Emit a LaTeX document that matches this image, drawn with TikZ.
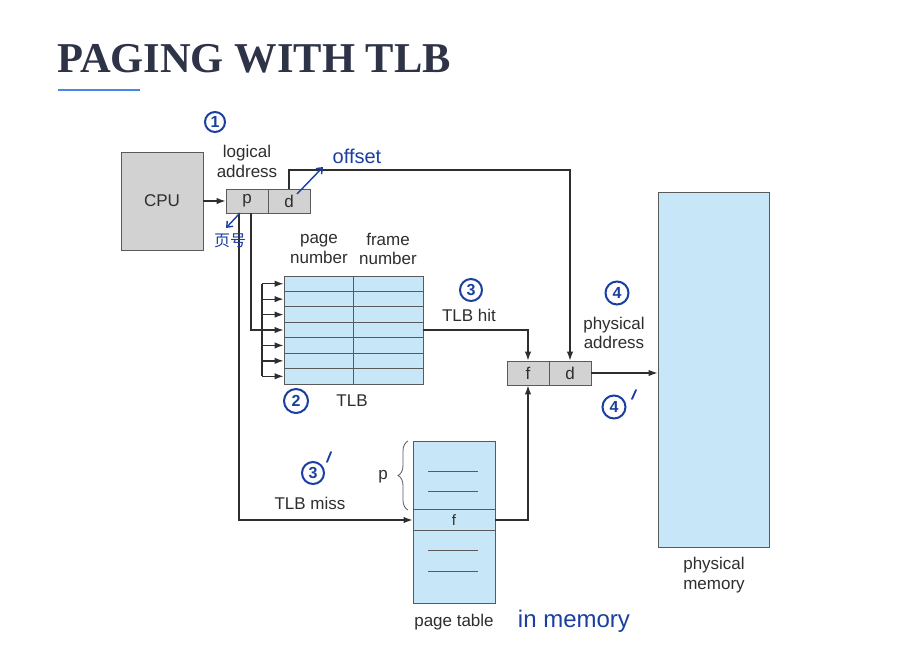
\documentclass[tikz,border=0pt]{standalone}
\usepackage{fontspec}
\setmainfont{Liberation Sans}
\newfontfamily\titlefont{Liberation Serif}
\newfontfamily\cjk{Noto Sans CJK SC}
\usetikzlibrary{arrows.meta,decorations.pathreplacing}

\definecolor{ink}{HTML}{2E2E2E}
\definecolor{frame}{HTML}{5A5A5A}
\definecolor{cellgray}{HTML}{D2D2D2}
\definecolor{cellblue}{HTML}{C7E7F8}
\definecolor{titleink}{HTML}{2E3347}
\definecolor{rule}{HTML}{4A86E8}
\definecolor{pen}{HTML}{1B3FA0}

\tikzset{
  lbl/.style={text=ink, font=\fontsize{17}{19.5}\selectfont, align=center, inner sep=0pt},
  graycell/.style={draw=frame, fill=cellgray, line width=0.9pt, minimum width=42pt, minimum height=24pt, inner sep=0pt, text=ink, font=\fontsize{17}{19.5}\selectfont},
  tlbrow/.style={draw=frame, fill=cellblue, line width=0.9pt, minimum width=139pt, minimum height=15.43pt, inner sep=0pt},
  wire/.style={draw=ink, line width=1.3pt},
  arr/.style={wire, -{Latex[length=9pt,width=6.5pt]}},
  hwcirc/.style={circle, draw=pen, line width=2pt, text=pen, minimum size=21pt, inner sep=0pt, font=\bfseries\fontsize{16}{16}\selectfont},
  hwtext/.style={text=pen, inner sep=0pt, font=\fontsize{20}{20}\selectfont},
  hwarrow/.style={draw=pen, line width=1.4pt, -{Straight Barb[length=5pt,width=8pt]}},
}

\begin{document}
\begin{tikzpicture}[x=1pt,y=-1pt]
\useasboundingbox[fill=white] (0,0) rectangle (897,667);

% heading
\node[anchor=base west, inner sep=0pt, text=titleink, font=\titlefont\bfseries\fontsize{42.5}{42.5}\selectfont] (title) at (57,72.5) {PAGING WITH TLB};
\draw[rule, line width=2pt] (58,90) -- (140,90);

% CPU and logical address
\node[draw=frame, fill=cellgray, line width=0.9pt, minimum width=82pt, minimum height=98pt, inner sep=0pt, text=ink, font=\fontsize{17}{19.5}\selectfont] (cpu) at (162,201) {CPU};
\node[graycell] (lp) at (247,201) {p};
\node[graycell] (ld) at (289,201) {d};
\node[lbl] (lalabel) at (247,161.5) {logical\\address};

% TLB
\foreach \i in {1,...,7} {
  \node[tlbrow] (tlbrow\i) at (353.5,{276+(\i-0.5)*15.43}) {};
}
\draw[frame, line width=0.9pt] (tlbrow1.north) -- (tlbrow7.south);
\node[lbl] (pnlabel) at (319,249) {page\\number};
\node[lbl] (fnlabel) at (388,249) {frame\\number};
\node[lbl] (tlblabel) at (352,401) {TLB};

% fan-in bus feeding every TLB entry
\coordinate (bus) at (262,0);
\draw[wire] (tlbrow1.west -| bus) -- (tlbrow7.west -| bus);
\foreach \i in {1,...,7} {
  \draw[arr] (tlbrow\i.west -| bus) -- (tlbrow\i.west);
}

% physical address
\node[graycell] (pf) at (528,373) {f};
\node[graycell] (pd) at (570,373) {d};
\node[lbl] (palabel) at (614,333) {physical\\address};
\node[lbl] (hitlabel) at (469,315) {TLB hit};

% physical memory
\node[draw=frame, fill=cellblue, line width=0.9pt, minimum width=111pt, minimum height=355pt, inner sep=0pt] (mem) at (713.5,369.5) {};
\node[lbl] (memlabel) at (714,575) {physical\\memory};

% page table
\node[draw=frame, fill=cellblue, line width=0.9pt, minimum width=82pt, minimum height=162pt, inner sep=0pt] (pt) at (454,522) {};
\node[draw=frame, fill=cellblue, line width=0.9pt, minimum width=82pt, minimum height=21pt, inner sep=0pt, text=ink, font=\fontsize{15}{15}\selectfont] (ptf) at (454,520) {f};
\foreach \y in {471,491.5,550.5,571.5} {
  \draw[frame, line width=0.9pt] (428,\y) -- (478,\y);
}
\draw[frame, line width=0.8pt, decorate, decoration={brace, amplitude=10pt}] (408,510) -- (408,441);
\node[lbl] (plabel) at (383,477) {p};
\node[lbl] (ptlabel) at (454,622) {page table};
\node[lbl] (misslabel) at (310,503) {TLB miss};

% connectors
\draw[arr] (cpu.east) -- (lp.west);
\draw[arr] (ld.north) -- (ld.north |- 0,170) -- (pd.north |- 0,170) -- (pd.north);
\draw[arr] ([xshift=-8pt]lp.south) |- (ptf.west);
\draw[wire] ([xshift=4pt]lp.south) |- (tlbrow4.west -| bus);
\draw[arr] (tlbrow4.east) -| (pf.north);
\draw[arr] (ptf.east) -| (pf.south);
\draw[arr] (pd.east) -- (pd.east -| mem.west);

% pen annotations
\node[hwcirc, minimum size=20pt] (n1) at (215,122) {1};
\node[hwcirc, minimum size=24pt] (n2) at (296,401) {2};
\node[hwcirc, minimum size=22pt] (n3) at (471,290) {3};
\node[hwcirc, minimum size=23pt] (n4) at (617,293) {4};
\node[hwcirc, minimum size=22pt] (n3b) at (313,473) {3};
\draw[pen, line width=1.8pt, line cap=round] (331,452) -- (327,462);
\node[hwcirc, minimum size=23pt] (n4b) at (614,407) {4};
\draw[pen, line width=1.8pt, line cap=round] (636,390) -- (632,399);

\node[hwtext] (offset) at (357,156) {offset};
\draw[hwarrow] (297,194) -- (323,167);
\node[hwtext, font=\cjk\fontsize{16}{16}\selectfont] (pagenum) at (230,241) {页号};
\draw[hwarrow] (240,213) -- (226,228);
\node[hwtext, font=\fontsize{24}{24}\selectfont] (inmem) at (574,621) {in memory};
\end{tikzpicture}
\end{document}
